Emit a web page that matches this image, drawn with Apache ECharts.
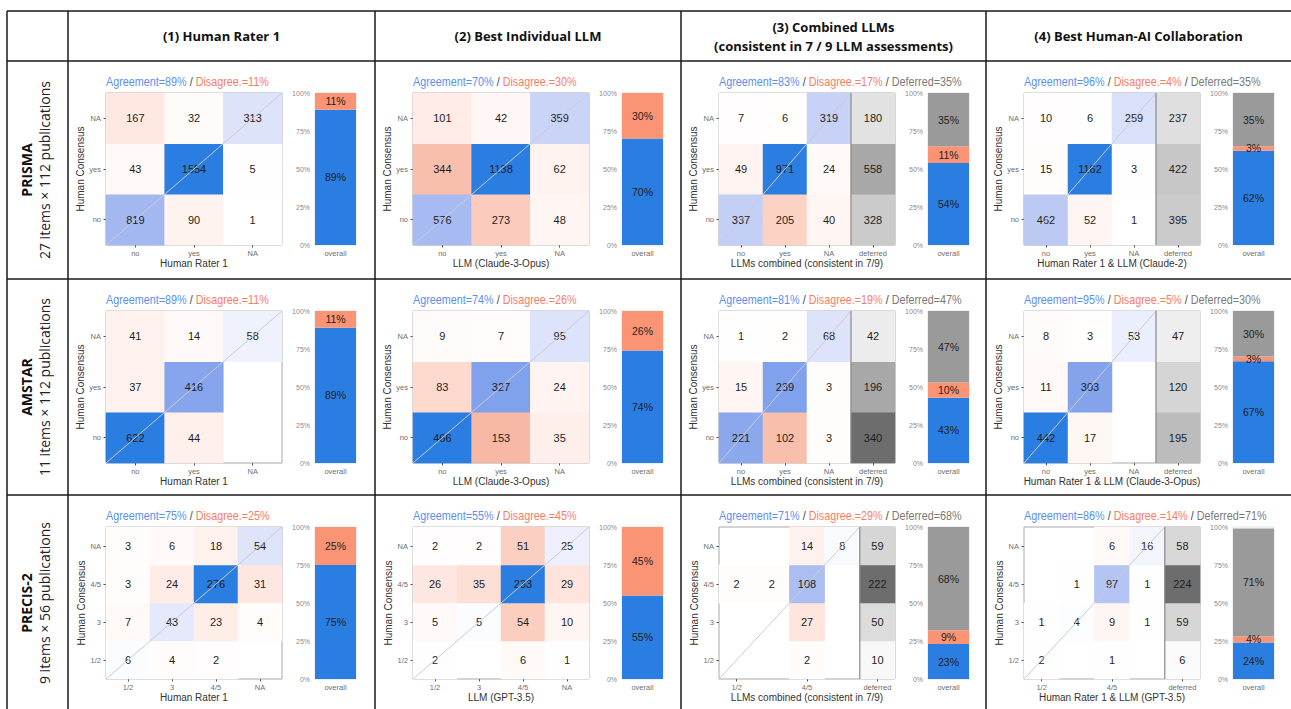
<!DOCTYPE html>
<html><head><meta charset="utf-8">
<script src="https://cdn.jsdelivr.net/npm/echarts@6/dist/echarts.min.js"></script>
<style>html,body{margin:0;padding:0;background:#fff;}#c{width:1291px;height:709px;}</style>
</head><body><div id="c"></div>
<script>
// ---------- DATA ----------
const columnTitles = [['(1) Human Rater 1'], ['(2) Best Individual LLM'], ['(3) Combined LLMs', '(consistent in 7 / 9 LLM assessments)'], ['(4) Best Human-AI Collaboration']];
const rowNames = ['PRISMA', 'AMSTAR', 'PRECIS-2'];
const rowSubtitles = ['27 items × 112 publications', '11 items × 112 publications', '9 items × 56 publications'];
const ratingsYesNo = ['no', 'yes', 'NA'];
const ratingsPrecis = ['1/2', '3', '4/5', 'NA'];
const deferredLabel = 'deferred';
const overallLabel = 'overall';
const yAxisTitle = 'Human Consensus';
const xAxisTitles = [
  ['Human Rater 1', 'LLM (Claude-3-Opus)', 'LLMs combined (consistent in 7/9)', 'Human Rater 1 & LLM (Claude-2)'],
  ['Human Rater 1', 'LLM (Claude-3-Opus)', 'LLMs combined (consistent in 7/9)', 'Human Rater 1 & LLM (Claude-3-Opus)'],
  ['Human Rater 1', 'LLM (GPT-3.5)', 'LLMs combined (consistent in 7/9)', 'Human Rater 1 & LLM (GPT-3.5)']
];
// confusion matrices: rows = human consensus (bottom -> top), columns = rater categories (left -> right, deferred last)
const prismaRater1   = [[819, 90, 1], [43, 1554, 5], [167, 32, 313]];
const prismaLLM      = [[576, 273, 48], [344, 1138, 62], [101, 42, 359]];
const prismaCombined = [[337, 205, 40, 328], [49, 971, 24, 558], [7, 6, 319, 180]];
const prismaHumanAI  = [[462, 52, 1, 395], [15, 1162, 3, 422], [10, 6, 259, 237]];
const amstarRater1   = [[622, 44, null], [37, 416, null], [41, 14, 58]];
const amstarLLM      = [[466, 153, 35], [83, 327, 24], [9, 7, 95]];
const amstarCombined = [[221, 102, 3, 340], [15, 239, 3, 196], [1, 2, 68, 42]];
const amstarHumanAI  = [[442, 17, null, 195], [11, 303, null, 120], [8, 3, 53, 47]];
const precisRater1   = [[6, 4, 2, null], [7, 43, 23, 4], [3, 24, 276, 31], [3, 6, 18, 54]];
const precisLLM      = [[2, null, 6, 1], [5, 5, 54, 10], [26, 35, 233, 29], [2, 2, 51, 25]];
const precisCombined = [[null, null, 2, null, 10], [null, null, 27, null, 50], [2, 2, 108, null, 222], [null, null, 14, 8, 59]];
const precisHumanAI  = [[2, null, 1, null, 6], [1, 4, 9, 1, 59], [null, 1, 97, 1, 224], [null, null, 6, 16, 58]];
// overall bars (percent)
const barAgreement    = [[89, 70, 54, 62], [89, 74, 43, 67], [75, 55, 23, 24]];
const barDisagreement = [[11, 30, 11, 3], [11, 26, 10, 3], [25, 45, 9, 4]];
const barDeferred     = [[null, null, 35, 35], [null, null, 47, 30], [null, null, 68, 71]];
// panel titles (percent)
const titleAgreement    = [[89, 70, 83, 96], [89, 74, 81, 95], [75, 55, 71, 86]];
const titleDisagreement = [[11, 30, 17, 4], [11, 26, 19, 5], [25, 45, 29, 14]];
const titleDeferred     = [[null, null, 35, 35], [null, null, 47, 30], [null, null, 68, 71]];

const matrices = [
  [prismaRater1, prismaLLM, prismaCombined, prismaHumanAI],
  [amstarRater1, amstarLLM, amstarCombined, amstarHumanAI],
  [precisRater1, precisLLM, precisCombined, precisHumanAI]
];
const rowCategories = [ratingsYesNo, ratingsYesNo, ratingsPrecis];

// ---------- STYLE / LAYOUT ----------
const FONT = "'Liberation Sans Narrow','Liberation Sans',Arial,sans-serif";
const HFONT = "'Open Sans','Noto Sans',sans-serif";
const colX0 = [68, 375, 681, 986];
const rowY0 = [61, 279, 495];
const tableX = [7, 68, 375, 681, 986];
const tableY = [11, 61, 279, 495];
const PL = 38, PW = 176, PT = 32, PH = 152, BL = 247, BW = 41;

// Lab colour interpolation (like ggplot gradients)
const Xn = 0.95047, Yn = 1, Zn = 1.08883;
function s2l(c) { c /= 255; return c <= 0.04045 ? c / 12.92 : Math.pow((c + 0.055) / 1.055, 2.4); }
function l2s(c) { c = Math.max(0, Math.min(1, c)); return Math.round(255 * (c <= 0.0031308 ? 12.92 * c : 1.055 * Math.pow(c, 1 / 2.4) - 0.055)); }
function ff(t) { return t > 0.008856 ? Math.cbrt(t) : 7.787 * t + 16 / 116; }
function fi(t) { return t > 0.206893 ? t * t * t : (t - 16 / 116) / 7.787; }
function hexToLab(h) {
  const r = s2l(parseInt(h.substr(1, 2), 16)), g = s2l(parseInt(h.substr(3, 2), 16)), b = s2l(parseInt(h.substr(5, 2), 16));
  const X = 0.4124 * r + 0.3576 * g + 0.1805 * b, Y = 0.2126 * r + 0.7152 * g + 0.0722 * b, Z = 0.0193 * r + 0.1192 * g + 0.9505 * b;
  const fx = ff(X / Xn), fy = ff(Y / Yn), fz = ff(Z / Zn);
  return [116 * fy - 16, 500 * (fx - fy), 200 * (fy - fz)];
}
function labToHex(L, a, b) {
  const fy = (L + 16) / 116, fx = fy + a / 500, fz = fy - b / 200;
  const X = Xn * fi(fx), Y = Yn * fi(fy), Z = Zn * fi(fz);
  const r = 3.2406 * X - 1.5372 * Y - 0.4986 * Z, g = -0.9689 * X + 1.8758 * Y + 0.0415 * Z, bb = 0.0557 * X - 0.2040 * Y + 1.0570 * Z;
  return 'rgb(' + l2s(r) + ',' + l2s(g) + ',' + l2s(bb) + ')';
}
const blueEnd = hexToLab('#2a7de1');
const redEnd = [40, 60, 57];
const grayEnd = hexToLab('#6d6d6d');
function mix(end, t) { return labToHex(100 + (end[0] - 100) * t, end[1] * t, end[2] * t); }

const grid = [], xAxis = [], yAxis = [], series = [], graphic = [];
const axisLblColor = '#6e6e6e';

for (let r = 0; r < 3; r++) {
  for (let c = 0; c < 4; c++) {
    const cats = rowCategories[r];
    const nCat = cats.length;
    const hasDef = c >= 2;
    const xCats = hasDef ? cats.concat([deferredLabel]) : cats.slice();
    const mat = matrices[r][c];
    let max = 0;
    mat.forEach(row => row.forEach(v => { if (v != null && v > max) max = v; }));
    const x0 = colX0[c], y0 = rowY0[r];

    // heatmap grid
    const gH = grid.length;
    grid.push({ left: x0 + PL, top: y0 + PT, width: PW, height: PH, show: true, borderColor: '#a8a8a8', borderWidth: 1, backgroundColor: 'transparent', outerBoundsMode: 'none', containLabel: false });
    const xiCat = xAxis.length;
    xAxis.push({ gridIndex: gH, type: 'category', data: xCats, position: 'bottom',
      axisLine: { show: false }, axisTick: { show: true, alignWithLabel: true, length: 2.5, lineStyle: { color: '#555' } },
      axisLabel: { fontSize: 7.5, color: axisLblColor, margin: 4, fontFamily: FONT },
      splitLine: { show: false },
      name: xAxisTitles[r][c], nameLocation: 'middle', nameGap: 13,
      nameTextStyle: { fontSize: 10, color: '#333', fontFamily: FONT } });
    const xiVal = xAxis.length;
    xAxis.push({ gridIndex: gH, type: 'value', min: 0, max: xCats.length, show: false });
    const yiCat = yAxis.length;
    yAxis.push({ gridIndex: gH, type: 'category', data: cats, position: 'left',
      axisLine: { show: false }, axisTick: { show: true, alignWithLabel: true, length: 2.5, lineStyle: { color: '#555' } },
      axisLabel: { fontSize: 7.5, color: axisLblColor, margin: 5, fontFamily: FONT },
      splitLine: { show: false },
      name: yAxisTitle, nameLocation: 'middle', nameGap: 16, nameRotate: 90,
      nameTextStyle: { fontSize: 10, color: '#333', fontFamily: FONT } });
    const yiVal = yAxis.length;
    yAxis.push({ gridIndex: gH, type: 'value', min: 0, max: nCat, show: false });

    const hdata = [];
    mat.forEach((row, yi) => row.forEach((v, xi) => {
      if (v == null) return;
      const t = v / max;
      let col;
      if (xi === nCat) col = mix(grayEnd, t);
      else if (xi === yi) col = mix(blueEnd, t);
      else col = mix(redEnd, t);
      hdata.push({ value: [xi, yi, v], itemStyle: { color: col } });
    }));
    series.push({ type: 'heatmap', xAxisIndex: xiCat, yAxisIndex: yiCat, data: hdata, silent: true, z: 2,
      label: { show: true, formatter: p => String(p.value[2]), color: '#1e1e1e', fontSize: 11, fontFamily: FONT },
      emphasis: { disabled: true } });
    // diagonal reference line
    series.push({ type: 'line', xAxisIndex: xiVal, yAxisIndex: yiVal, data: [[0, 0], [nCat, nCat]], symbol: 'none', silent: true, z: 3,
      lineStyle: { color: '#c9cbd6', width: 1 } });
    if (hasDef) {
      series.push({ type: 'line', xAxisIndex: xiVal, yAxisIndex: yiVal, data: [[nCat, 0], [nCat, nCat]], symbol: 'none', silent: true, z: 3,
        lineStyle: { color: '#8a8a8a', width: 1.2 } });
    }

    // panel title (horizontally condensed like the original narrow font)
    let txt = '{a|Agreement=' + titleAgreement[r][c] + '%}{s| / }{d|Disagree.=' + titleDisagreement[r][c] + '%}';
    if (titleDeferred[r][c] != null) txt += '{s| / }{g|Deferred=' + titleDeferred[r][c] + '%}';
    graphic.push({ type: 'text', x: x0 + PL, y: y0 + 21, scaleX: 0.83, silent: true,
      style: { text: txt, font: '13px ' + FONT, align: 'left', verticalAlign: 'middle', textAlign: 'left', textVerticalAlign: 'middle',
        rich: {
          a: { fill: '#5b8ff0', color: '#5b8ff0', font: '13px ' + FONT },
          s: { fill: '#444', color: '#444', font: '13px ' + FONT },
          d: { fill: '#fa7c66', color: '#fa7c66', font: '13px ' + FONT },
          g: { fill: '#7a7a7a', color: '#7a7a7a', font: '13px ' + FONT }
        } } });

    // overall bar
    const gB = grid.length;
    grid.push({ left: x0 + BL, top: y0 + PT, width: BW, height: PH, show: true, borderColor: '#e2e2e2', borderWidth: 1, backgroundColor: 'transparent', outerBoundsMode: 'none', containLabel: false });
    const xb = xAxis.length;
    xAxis.push({ gridIndex: gB, type: 'category', data: [overallLabel], axisLine: { show: false }, axisTick: { show: false },
      axisLabel: { fontSize: 7.5, color: axisLblColor, margin: 4, fontFamily: FONT }, splitLine: { show: false } });
    const yb = yAxis.length;
    yAxis.push({ gridIndex: gB, type: 'value', min: 0, max: 100, interval: 25, axisLine: { show: false }, axisTick: { show: false },
      splitLine: { show: false }, axisLabel: { formatter: '{value}%', fontSize: 7, color: '#8a8a8a', margin: 5, fontFamily: FONT } });
    const barLbl = { show: true, position: 'inside', formatter: p => p.value + '%', color: '#1e1e1e', fontSize: 10.5, fontFamily: FONT };
    const parts = [[barAgreement[r][c], '#2a7de1'], [barDisagreement[r][c], '#fb9474'], [barDeferred[r][c], '#9a9a9a']];
    parts.forEach(([v, colr]) => {
      if (v == null) return;
      series.push({ type: 'bar', xAxisIndex: xb, yAxisIndex: yb, stack: 'overall' + r + c, data: [v], barWidth: '100%', silent: true,
        itemStyle: { color: colr }, label: barLbl });
    });
  }
}

// ---------- TABLE FRAME & HEADERS ----------
const lineStyle = { stroke: '#1a1a1a', lineWidth: 1.5 };
tableY.forEach(y => graphic.push({ type: 'line', shape: { x1: tableX[0], y1: y, x2: 1291, y2: y }, style: lineStyle, silent: true }));
tableX.forEach(x => graphic.push({ type: 'line', shape: { x1: x, y1: tableY[0], x2: x, y2: 709 }, style: lineStyle, silent: true }));
const colRight = [375, 681, 986, 1291];
columnTitles.forEach((lines, c) => {
  const cx = (tableX[c + 1] + colRight[c]) / 2;
  const cy = (tableY[0] + tableY[1]) / 2;
  lines.forEach((t, i) => {
    const y = lines.length === 1 ? cy : cy + (i - 0.5) * 19;
    graphic.push({ type: 'text', x: cx, y: y, silent: true,
      style: { text: t, fill: '#111', font: 'bold 13px ' + HFONT, align: 'center', verticalAlign: 'middle', textAlign: 'center', textVerticalAlign: 'middle' } });
  });
});
rowNames.forEach((name, r) => {
  const cy = (rowY0[r] + (r < 2 ? rowY0[r + 1] : 711)) / 2;
  graphic.push({ type: 'text', x: 26, y: cy, rotation: Math.PI / 2, silent: true,
    style: { text: name, fill: '#111', font: 'bold 14px ' + HFONT, align: 'center', verticalAlign: 'middle', textAlign: 'center', textVerticalAlign: 'middle' } });
  graphic.push({ type: 'text', x: 44, y: cy, rotation: Math.PI / 2, silent: true,
    style: { text: rowSubtitles[r], fill: '#222', font: '14px ' + HFONT, align: 'center', verticalAlign: 'middle', textAlign: 'center', textVerticalAlign: 'middle' } });
});

const chart = echarts.init(document.getElementById('c'), null, { renderer: 'svg' });
chart.setOption({ animation: false, backgroundColor: '#fff', grid, xAxis, yAxis, series, graphic });
</script></body></html>
